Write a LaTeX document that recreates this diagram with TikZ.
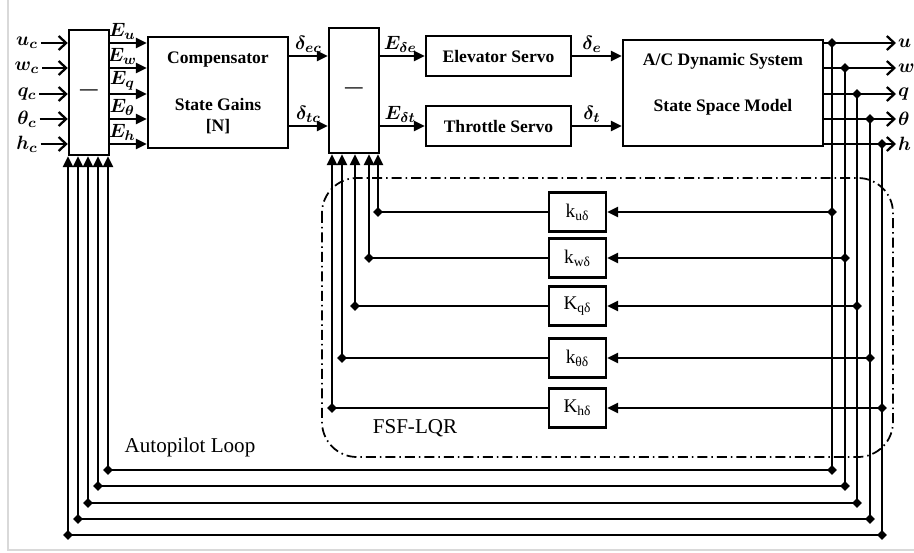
\documentclass[tikz,border=0pt]{standalone}
\usepackage{fontspec}
\setmainfont{Liberation Serif}
\usetikzlibrary{arrows.meta,shapes.geometric}

\tikzset{
  block/.style={draw, line width=1.4pt, align=center, font=\bfseries},
  gain/.style={draw, line width=1.4pt, minimum width=1.14cm, minimum height=0.78cm,
      font=\fontsize{11}{13}\selectfont},
  wire/.style={line width=1.4pt},
  arr/.style={line width=1.4pt, -{Triangle[length=0.22cm,width=0.2cm]}},
  oarr/.style={line width=1.4pt, -{Straight Barb[length=0.15cm,width=0.28cm,line width=1.3pt]}},
  jdot/.style={diamond, fill, inner sep=0pt, minimum size=0.2cm},
  sig/.style={font=\boldmath\fontsize{11}{13}\selectfont, inner sep=1.5pt},
  bigtext/.style={font=\fontsize{12}{14}\selectfont},
}

\begin{document}
\begin{tikzpicture}[x=0.02cm, y=-0.02cm]
    \useasboundingbox (0,0) rectangle (914,552);
    \draw[black!15, line width=1.2pt] (8,0) -- (8,550) -- (914,550);

    % forward path
    \node[block, minimum width=0.8cm, minimum height=2.5cm] (sumA) at (89,92.5) {—};
    \node[block, minimum width=2.8cm, minimum height=2.22cm] (comp) at (218,92.5)
        {Compensator\\[0.52cm] State Gains\\{}[N]};
    \node[block, minimum width=1.0cm, minimum height=2.5cm] (sumB) at (354,90.5) {—};
    \node[block, minimum width=2.9cm, minimum height=0.8cm] (elev) at (498.5,56) {Elevator Servo};
    \node[block, minimum width=2.9cm, minimum height=0.8cm] (thr) at (498.5,126) {Throttle Servo};
    \node[block, minimum width=4.0cm, minimum height=2.12cm] (ac) at (723,93) {};
    \node[font=\bfseries, align=center] (acTxt) at (723,84)
        {A/C Dynamic System\\[0.5cm] State Space Model};

    % commands
    \node[sig] (uc) at (27,43) {$u_c$};
    \node[sig] (wc) at (27,68) {$w_c$};
    \node[sig] (qc) at (27,94) {$q_c$};
    \node[sig] (tc) at (27,119) {$\theta_c$};
    \node[sig] (hc) at (27,144) {$h_c$};
    \draw[oarr] (uc) -- (uc -| sumA.west);
    \draw[oarr] (wc) -- (wc -| sumA.west);
    \draw[oarr] (qc) -- (qc -| sumA.west);
    \draw[oarr] (tc) -- (tc -| sumA.west);
    \draw[oarr] (hc) -- (hc -| sumA.west);

    \draw[arr] (sumA.east |- uc) -- node[sig, above, pos=0.33] {$E_u$} (comp.west |- uc);
    \draw[arr] (sumA.east |- wc) -- node[sig, above, pos=0.33] {$E_w$} (comp.west |- wc);
    \draw[arr] (sumA.east |- qc) -- node[sig, above, pos=0.33] {$E_q$} (comp.west |- qc);
    \draw[arr] (sumA.east |- tc) -- node[sig, above, pos=0.33] {$E_\theta$} (comp.west |- tc);
    \draw[arr] (sumA.east |- hc) -- node[sig, above, pos=0.33] {$E_h$} (comp.west |- hc);

    \draw[arr] (comp.east |- elev) -- node[sig, above] {$\delta_{ec}$} (sumB.west |- elev);
    \draw[arr] (comp.east |- thr) -- node[sig, above] {$\delta_{tc}$} (sumB.west |- thr);
    \draw[arr] (sumB.east |- elev) -- node[sig, above, pos=0.45] {$E_{\delta e}$} (elev);
    \draw[arr] (sumB.east |- thr) -- node[sig, above, pos=0.45] {$E_{\delta t}$} (thr);
    \draw[arr] (elev) -- node[sig, above, pos=0.4] {$\delta_e$} (elev -| ac.west);
    \draw[arr] (thr) -- node[sig, above, pos=0.4] {$\delta_t$} (thr -| ac.west);

    % states out
    \node[sig, anchor=west, inner sep=1pt] (uo) at (896,43) {$u$};
    \node[sig, anchor=west, inner sep=1pt] (wo) at (896,68) {$w$};
    \node[sig, anchor=west, inner sep=1pt] (qo) at (896,94) {$q$};
    \node[sig, anchor=west, inner sep=1pt] (to) at (896,119) {$\theta$};
    \node[sig, anchor=west, inner sep=1pt] (ho) at (896,144) {$h$};
    \draw[oarr] (ac.east |- uo) -- (uo);
    \draw[oarr] (ac.east |- wo) -- (wo);
    \draw[oarr] (ac.east |- qo) -- (qo);
    \draw[oarr] (ac.east |- to) -- (to);
    \draw[oarr] (ac.east |- ho) -- (ho);

    \node[jdot] (jU) at (832,43) {};
    \node[jdot] (jW) at (845,68) {};
    \node[jdot] (jQ) at (857,94) {};
    \node[jdot] (jT) at (870,119) {};
    \node[jdot] (jH) at (882,144) {};

    % FSF-LQR inner loop
    \draw[line width=1pt, dash pattern=on 0.2cm off 0.08cm on 0.03cm off 0.08cm,
        rounded corners=0.7cm] (322,178) rectangle (893,457);
    \node[bigtext] (fsf) at (415,428) {FSF-LQR};

    \node[gain] (kU) at (577.5,212) {k\textsubscript{uδ}};
    \node[gain] (kW) at (577.5,258) {k\textsubscript{wδ}};
    \node[gain] (kQ) at (577.5,306) {K\textsubscript{qδ}};
    \node[gain] (kT) at (577.5,358) {k\textsubscript{θδ}};
    \node[gain] (kH) at (577.5,408) {K\textsubscript{hδ}};

    \node[jdot] (gU) at (832,212) {};
    \node[jdot] (gW) at (845,258) {};
    \node[jdot] (gQ) at (857,306) {};
    \node[jdot] (gT) at (870,358) {};
    \node[jdot] (gH) at (882,408) {};
    \node[jdot] (lU) at (378,212) {};
    \node[jdot] (lW) at (369,258) {};
    \node[jdot] (lQ) at (355,306) {};
    \node[jdot] (lT) at (342,358) {};
    \node[jdot] (lH) at (332,408) {};

    \draw[arr] (gU.center) -- (kU);
    \draw[arr] (gW.center) -- (kW);
    \draw[arr] (gQ.center) -- (kQ);
    \draw[arr] (gT.center) -- (kT);
    \draw[arr] (gH.center) -- (kH);
    \draw[wire] (kU) -- (lU.center);
    \draw[wire] (kW) -- (lW.center);
    \draw[wire] (kQ) -- (lQ.center);
    \draw[wire] (kT) -- (lT.center);
    \draw[wire] (kH) -- (lH.center);
    \draw[arr] (lU.center) -- (lU |- sumB.south);
    \draw[arr] (lW.center) -- (lW |- sumB.south);
    \draw[arr] (lQ.center) -- (lQ |- sumB.south);
    \draw[arr] (lT.center) -- (lT |- sumB.south);
    \draw[arr] (lH.center) -- (lH |- sumB.south);

    % autopilot outer loop
    \node[bigtext] (auto) at (190,447) {Autopilot Loop};

    \node[jdot] (bU) at (832,470) {};
    \node[jdot] (bW) at (845,486) {};
    \node[jdot] (bQ) at (857,503) {};
    \node[jdot] (bT) at (870,519) {};
    \node[jdot] (bH) at (882,535) {};
    \node[jdot] (cU) at (108,470) {};
    \node[jdot] (cW) at (98,486) {};
    \node[jdot] (cQ) at (88,503) {};
    \node[jdot] (cT) at (78,519) {};
    \node[jdot] (cH) at (68,535) {};

    \draw[wire] (jU.center) -- (bU.center) -- (cU.center);
    \draw[wire] (jW.center) -- (bW.center) -- (cW.center);
    \draw[wire] (jQ.center) -- (bQ.center) -- (cQ.center);
    \draw[wire] (jT.center) -- (bT.center) -- (cT.center);
    \draw[wire] (jH.center) -- (bH.center) -- (cH.center);
    \draw[arr] (cU.center) -- (cU |- sumA.south);
    \draw[arr] (cW.center) -- (cW |- sumA.south);
    \draw[arr] (cQ.center) -- (cQ |- sumA.south);
    \draw[arr] (cT.center) -- (cT |- sumA.south);
    \draw[arr] (cH.center) -- (cH |- sumA.south);
\end{tikzpicture}
\end{document}
